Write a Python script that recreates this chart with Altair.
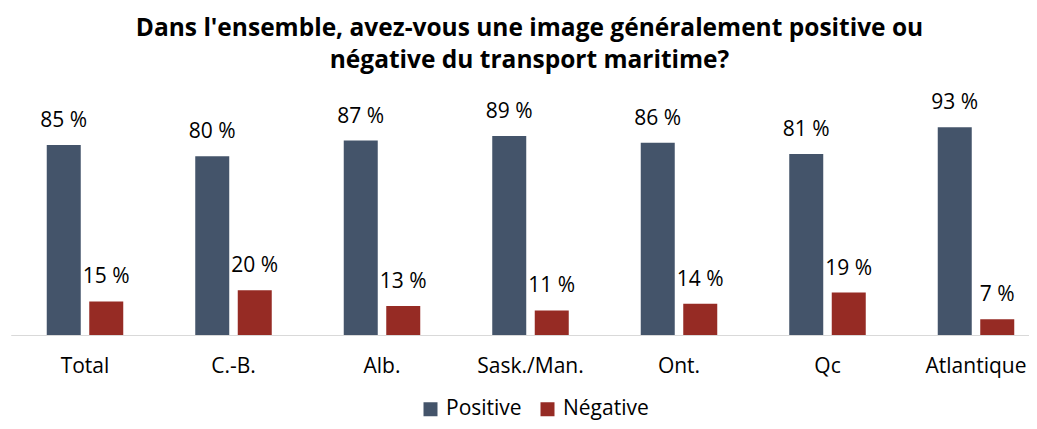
import altair as alt
import pandas as pd

regions = ["Total", "C.-B.", "Alb.", "Sask./Man.", "Ont.", "Qc", "Atlantique"]
positive = [85, 80, 87, 89, 86, 81, 93]
negative = [15, 20, 13, 11, 14, 19, 7]
series = ["Positive", "Négative"]
colors = ["#44546A", "#962B24"]

rows = []
for r, p, n in zip(regions, positive, negative):
    rows.append({"region": r, "serie": series[0], "value": p, "label": f"{p} %"})
    rows.append({"region": r, "serie": series[1], "value": n, "label": f"{n} %"})
df = pd.DataFrame(rows)

FONT = "Open Sans"
FS = 21

x = alt.X("region:N", sort=regions, title=None,
          scale=alt.Scale(range=[2.75, 1042.25], paddingInner=0, paddingOuter=0),
          axis=alt.Axis(labelAngle=0, ticks=False, domainColor="#D9D9D9", domainWidth=1,
                        labelFontSize=FS, labelFont=FONT, labelColor="#000000",
                        labelPadding=20))
xo = alt.XOffset("serie:N", sort=series,
                 scale=alt.Scale(paddingInner=0.2, paddingOuter=0.847))
y = alt.Y("value:Q", scale=alt.Scale(domain=[0, 100], nice=False), axis=None)
color = alt.Color("serie:N", sort=series,
                  scale=alt.Scale(domain=series, range=colors),
                  legend=alt.Legend(title=None, orient="none", direction="horizontal",
                                    legendX=412, legendY=287, symbolType="square",
                                    symbolSize=196, symbolStrokeWidth=0,
                                    labelFontSize=FS, labelFont=FONT, labelColor="#000000",
                                    columnPadding=15, symbolOpacity=1, labelOffset=5))

base = alt.Chart(df)
bars = base.mark_bar().encode(x=x, xOffset=xo, y=y, color=color)
texts = base.mark_text(baseline="alphabetic", dy=-18, fontSize=FS, font=FONT,
                       color="#000000").encode(x=x, xOffset=xo, y=y, text="label:N")

chart = (bars + texts).properties(
    width=1021, height=223.5,
    autosize=alt.AutoSizeParams(type="none"),
    padding={"left": 0, "right": 0, "top": 103.5, "bottom": 86},
    title=alt.TitleParams(
        text=["Dans l'ensemble, avez-vous une image généralement positive ou",
              "négative du transport maritime?"],
        fontSize=24.5, font=FONT, fontWeight="bold", color="#000000",
        anchor="middle", dx=11, offset=19, lineHeight=32),
).configure_view(stroke=None)

chart.save("out.html", embed_options={"renderer": "svg", "actions": False})
